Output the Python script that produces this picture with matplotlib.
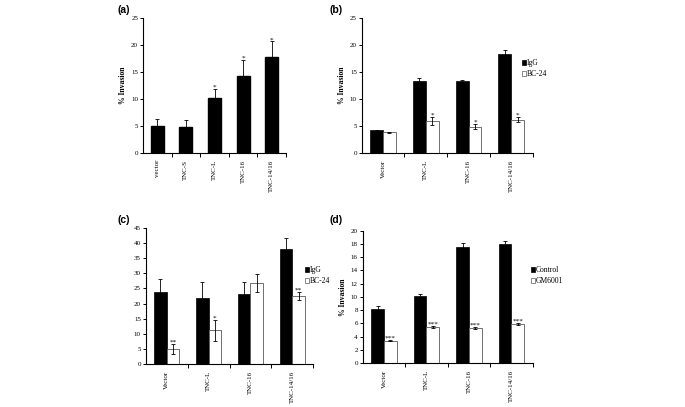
import matplotlib
matplotlib.use("Agg")
import matplotlib.pyplot as plt
from matplotlib.patches import Patch
import numpy as np

# ---------------- data ----------------
a_cats = ["vector", "TNC-S", "TNC-L", "TNC-16", "TNC-14/16"]
a_vals = [5.1, 4.9, 10.2, 14.3, 17.8]
a_err = [1.2, 1.2, 1.7, 3.0, 2.9]
a_stars = ["", "", "*", "*", "*"]

b_cats = ["Vector", "TNC-L", "TNC-16", "TNC-14/16"]
b_igg = [4.2, 13.3, 13.4, 18.4]
b_igg_err = [0.1, 0.5, 0.2, 0.7]
b_bc = [3.8, 5.9, 4.9, 6.2]
b_bc_err = [0.1, 0.8, 0.5, 0.5]
b_stars = ["", "*", "*", "*"]
b_labels = ["IgG", "BC-24"]

c_cats = ["Vector", "TNC-L", "TNC-16", "TNC-14/16"]
c_igg = [23.7, 21.7, 23.1, 38.2]
c_igg_err = [4.5, 5.5, 4.0, 3.6]
c_bc = [4.9, 11.1, 26.7, 22.4]
c_bc_err = [1.7, 3.4, 3.0, 1.3]
c_stars = ["**", "*", "", "**"]
c_labels = ["IgG", "BC-24"]

d_cats = ["Vector", "TNC-L", "TNC-16", "TNC-14/16"]
d_ctrl = [8.1, 10.1, 17.5, 18.0]
d_ctrl_err = [0.5, 0.3, 0.6, 0.5]
d_gm = [3.4, 5.4, 5.35, 5.9]
d_gm_err = [0.1, 0.15, 0.15, 0.2]
d_stars = ["***", "***", "***", "***"]
d_labels = ["Control", "GM6001"]

# ---------------- style ----------------
SERIF = ["Liberation Serif", "DejaVu Serif"]
SANS = ["Liberation Sans", "DejaVu Sans"]
TICK_FS = 5.0
LBL_FS = 5.5
STAR_FS = 5.2
plt.rcParams["font.family"] = SERIF
plt.rcParams["axes.linewidth"] = 0.8

fig = plt.figure(figsize=(6.85, 4.07), dpi=100)
fig.patch.set_facecolor("white")


def style_axes(ax, cats, ymax, ystep, ylabel=True):
    n = len(cats)
    ax.set_xlim(-0.5, n - 0.5)
    ax.set_ylim(0, ymax)
    ax.set_yticks(np.arange(0, ymax + 0.01, ystep))
    ax.set_yticklabels([f"{v:g}" for v in np.arange(0, ymax + 0.01, ystep)],
                       fontsize=TICK_FS)
    ax.spines["top"].set_visible(False)
    ax.spines["right"].set_visible(False)
    ax.tick_params(axis="y", direction="out", length=2.5, width=0.7, pad=1)
    bounds = np.arange(0.5, n - 0.5, 1.0).tolist() + [n - 0.5]
    ax.set_xticks(bounds)
    ax.set_xticklabels([""] * len(bounds))
    ax.tick_params(axis="x", which="major", direction="out", length=3, width=0.7)
    ax.set_xticks(np.arange(n), minor=True)
    ax.set_xticklabels(cats, minor=True, rotation=90, fontsize=TICK_FS)
    ax.tick_params(axis="x", which="minor", length=0, pad=5)
    if ylabel:
        ax.set_ylabel("% Invasion", fontsize=LBL_FS, fontweight="bold", labelpad=3)


def stars(ax, xs, tops, marks):
    for x, t, m in zip(xs, tops, marks):
        if m:
            ax.annotate(m, (x, t), xytext=(0, -0.5), textcoords="offset points",
                        ha="center", va="bottom", fontsize=STAR_FS)


def grouped(ax, v1, e1, v2, e2, marks, labels, leg_xy):
    x = np.arange(len(v1))
    w = 0.3
    ax.bar(x - w / 2, v1, w, color="black", edgecolor="black", linewidth=0.5,
           yerr=e1, error_kw=dict(ecolor="black", elinewidth=0.6, capsize=1.5, capthick=0.6),
           zorder=2)
    ax.bar(x + w / 2, v2, w, color="white", edgecolor="0.35", linewidth=0.6,
           yerr=e2, error_kw=dict(ecolor="black", elinewidth=0.6, capsize=1.5, capthick=0.6),
           zorder=2)
    stars(ax, x + w / 2, np.array(v2) + np.array(e2), marks)
    handles = [Patch(facecolor="black", edgecolor="black", linewidth=0.5),
               Patch(facecolor="white", edgecolor="0.35", linewidth=0.5)]
    fig.legend(handles, labels, loc="center left", bbox_to_anchor=leg_xy,
               frameon=False, fontsize=LBL_FS, handlelength=0.55, handleheight=0.55,
               handletextpad=0.2, labelspacing=0.4, borderpad=0, borderaxespad=0)


# (a)
axa = fig.add_axes([143 / 685, 1 - 153 / 407, 143 / 685, 134.7 / 407])
xa = np.arange(len(a_vals))
axa.bar(xa, a_vals, 0.45, color="black", edgecolor="black",
        yerr=a_err, error_kw=dict(ecolor="black", elinewidth=0.6, capsize=1.5, capthick=0.6),
        zorder=2)
stars(axa, xa, np.array(a_vals) + np.array(a_err), a_stars)
style_axes(axa, a_cats, 25, 5)

# (b)
axb = fig.add_axes([361.7 / 685, 1 - 153 / 407, 171 / 685, 135 / 407])
grouped(axb, b_igg, b_igg_err, b_bc, b_bc_err, b_stars, b_labels,
        (521.5 / 685, 1 - 68.7 / 407))
style_axes(axb, b_cats, 25, 5)

# (c)
axc = fig.add_axes([145.7 / 685, 1 - 363.7 / 407, 167.6 / 685, 135.4 / 407])
grouped(axc, c_igg, c_igg_err, c_bc, c_bc_err, c_stars, c_labels,
        (304.5 / 685, 1 - 275.8 / 407))
style_axes(axc, c_cats, 45, 5, ylabel=False)

# (d)
axd = fig.add_axes([362.7 / 685, 1 - 363 / 407, 170 / 685, 132.3 / 407])
grouped(axd, d_ctrl, d_ctrl_err, d_gm, d_gm_err, d_stars, d_labels,
        (530.5 / 685, 1 - 275.8 / 407))
style_axes(axd, d_cats, 20, 2)

# panel labels
for lab, (px, py) in {"(a)": (123.5, 10), "(b)": (336.5, 10),
                      "(c)": (123.5, 220.5), "(d)": (336.5, 220.5)}.items():
    fig.text(px / 685, 1 - py / 407, lab, ha="center", va="center",
             fontsize=7.5, fontweight="bold", family=SANS)

fig.savefig("out.png", dpi=100, facecolor="white")
